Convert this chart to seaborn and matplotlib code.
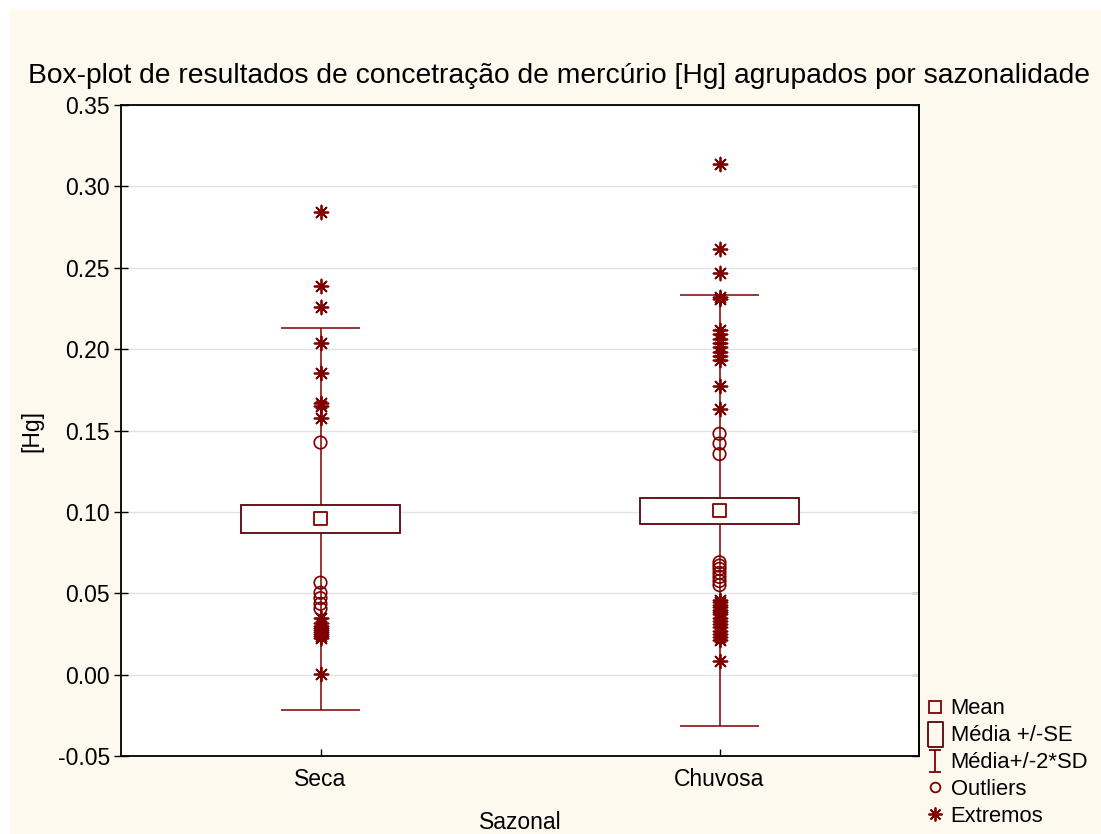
import numpy as np
import pandas as pd
import matplotlib
matplotlib.use("Agg")
import matplotlib.pyplot as plt
from matplotlib.patches import Rectangle
from matplotlib.lines import Line2D
from matplotlib.path import Path
from matplotlib.ticker import FuncFormatter
import seaborn as sns

# values
categories = ["Seca", "Chuvosa"]
media = [0.0958, 0.1008]
se_baixo = [0.0872, 0.0928]
se_alto = [0.1040, 0.1088]
sd2_baixo = [-0.0215, -0.0313]
sd2_alto = [0.2132, 0.2330]

seca_outliers = [0.1426, 0.0565, 0.0503, 0.0470, 0.0435, 0.0405]
seca_extremos = [0.2840, 0.2386, 0.2257, 0.2040, 0.1852, 0.1672, 0.1650, 0.1576,
                 0.0345, 0.0320, 0.0300, 0.0285, 0.0272, 0.0260, 0.0250, 0.0240,
                 0.0225, 0.0005]
chuvosa_outliers = [0.1480, 0.1420, 0.1355, 0.0690, 0.0670, 0.0650, 0.0625,
                    0.0600, 0.0575, 0.0550]
chuvosa_extremos = [0.3137, 0.2614, 0.2466, 0.2318, 0.2305, 0.2120, 0.2090,
                    0.2060, 0.2035, 0.2010, 0.1985, 0.1960, 0.1935, 0.1775, 0.1635,
                    0.0460, 0.0445, 0.0430, 0.0415, 0.0400, 0.0385, 0.0370,
                    0.0350, 0.0330, 0.0310, 0.0290, 0.0270, 0.0250, 0.0230,
                    0.0210, 0.0085]

y_ticks = [-0.05, 0.00, 0.05, 0.10, 0.15, 0.20, 0.25, 0.30, 0.35]

cor = "#800000"
cor_caixa = "#5C0010"
creme = "#FDF9EF"
fs = 16.5

sns.set_style("white")
plt.rcParams["font.family"] = ["Liberation Sans", "DejaVu Sans"]
plt.rcParams["axes.unicode_minus"] = False
plt.rcParams["text.color"] = "black"
plt.rcParams["axes.labelcolor"] = "black"

outl = pd.DataFrame({
    "Sazonal": ["Seca"] * len(seca_outliers) + ["Chuvosa"] * len(chuvosa_outliers),
    "Hg": seca_outliers + chuvosa_outliers,
})
extr = pd.DataFrame({
    "Sazonal": ["Seca"] * len(seca_extremos) + ["Chuvosa"] * len(chuvosa_extremos),
    "Hg": seca_extremos + chuvosa_extremos,
})
resumo = pd.DataFrame({"Sazonal": categories, "Media": media})

fig = plt.figure(figsize=(11.01, 8.34), dpi=100)
fig.patch.set_facecolor("white")
fig.add_artist(Rectangle((10 / 1101, 0), 1, 1 - 10 / 834, transform=fig.transFigure,
                         facecolor=creme, edgecolor="none", zorder=-10))
ax = fig.add_axes([121 / 1101, 1 - 756 / 834, (919 - 121) / 1101, (756 - 105) / 834])
ax.set_facecolor("white")

pos = np.arange(len(categories))
# whisker lines (mean +/- 2*SD)
ax.vlines(pos, sd2_baixo, sd2_alto, color=cor, lw=1.1, zorder=1)
ax.hlines(sd2_baixo, pos - 0.1, pos + 0.1, color=cor, lw=1.1, zorder=1)
ax.hlines(sd2_alto, pos - 0.1, pos + 0.1, color=cor, lw=1.1, zorder=1)
# boxes (mean +/- SE)
for i in pos:
    ax.add_patch(Rectangle((i - 0.2, se_baixo[i]), 0.4, se_alto[i] - se_baixo[i],
                           facecolor="white", edgecolor=cor_caixa, lw=1.3, zorder=2))

sns.stripplot(data=resumo, x="Sazonal", y="Media", order=categories, jitter=False,
              marker="s", size=9, color=cor, facecolor="none", edgecolor=cor,
              linewidth=1.3, ax=ax, zorder=3)
sns.stripplot(data=outl, x="Sazonal", y="Hg", order=categories, jitter=False,
              marker="o", size=9, color=cor, facecolor="none", edgecolor=cor,
              linewidth=1.2, ax=ax, zorder=4)
sns.stripplot(data=extr, x="Sazonal", y="Hg", order=categories, jitter=False,
              marker=(8, 2, 0), size=10, color=cor, edgecolor=cor,
              linewidth=1.3, ax=ax, zorder=5)

ax.set_xlim(-0.5, 1.5)
ax.set_ylim(-0.05, 0.35)
ax.set_yticks(y_ticks)
ax.yaxis.set_major_formatter(FuncFormatter(lambda v, p: f"{v:.2f}"))
ax.grid(axis="y", color="#E2E2E2", lw=1)
ax.set_axisbelow(True)
for s in ax.spines.values():
    s.set_color("black")
    s.set_linewidth(1.3)
ax.tick_params(axis="y", which="both", left=True, direction="inout",
               length=10, width=1, labelsize=fs, colors="black", pad=3)
ax.tick_params(axis="x", bottom=True, direction="in", length=5, width=1,
               labelsize=fs, colors="black", pad=9)
ax.set_xlabel("Sazonal", fontsize=fs, labelpad=14)
ax.set_ylabel("[Hg]", fontsize=fs, labelpad=10)
# inward ticks on the right side
ax_r = ax.secondary_yaxis("right")
ax_r.set_yticks(y_ticks)
ax_r.tick_params(direction="in", length=5, width=1, labelright=False)
ax_r.spines["right"].set_linewidth(1.3)

fig.text(0.508, 1 - 76 / 834, "Box-plot de resultados de concetração de mercúrio [Hg] agrupados por sazonalidade",
         ha="center", va="center", fontsize=20.3)

caixa = Path([(-0.6, -1), (0.6, -1), (0.6, 1), (-0.6, 1), (-0.6, -1)])
ibeam = Path([(-0.5, 1), (0.5, 1), (0, 1), (0, -1), (-0.5, -1), (0.5, -1)],
             [Path.MOVETO, Path.LINETO, Path.MOVETO, Path.LINETO, Path.MOVETO, Path.LINETO])
handles = [
    Line2D([], [], ls="", marker="s", ms=8, mfc="none", mec=cor, mew=1.3),
    Line2D([], [], ls="", marker=caixa, ms=18, mfc="none", mec=cor_caixa, mew=1.3),
    Line2D([], [], ls="", marker=ibeam, ms=16, mfc="none", mec=cor, mew=1.3),
    Line2D([], [], ls="", marker="o", ms=7, mfc="none", mec=cor, mew=1.3),
    Line2D([], [], ls="", marker=(8, 2, 0), ms=10, mfc="none", mec=cor, mew=1.3),
]
labels = ["Mean", "Média +/-SE", "Média+/-2*SD", "Outliers", "Extremos"]
fig.legend(handles, labels, loc="upper left", bbox_to_anchor=(909 / 1101, 1 - 683 / 834),
           frameon=False, fontsize=15.8, handlelength=1.0, handletextpad=0.2,
           labelspacing=0.27, borderpad=0.2)

fig.savefig("out.png", dpi=100)
